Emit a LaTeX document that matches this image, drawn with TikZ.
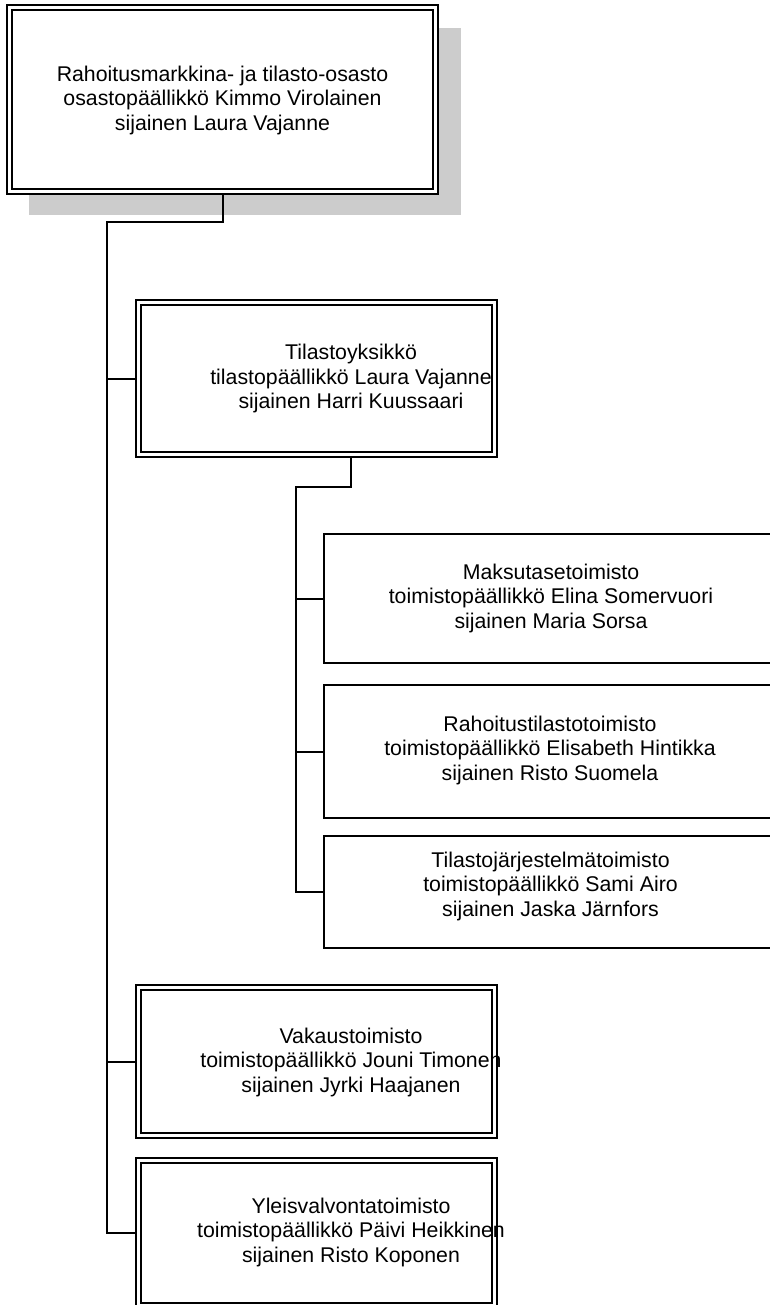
\documentclass[tikz,border=0pt]{standalone}
\usepackage{fontspec}
\setmainfont{Liberation Sans}
\usetikzlibrary{shadows,positioning}

\tikzset{
  unitbox/.style={draw, line width=1.2pt, double, double distance=3.8pt,
    outer sep=3.1pt, inner sep=0pt, fill=white},
  officebox/.style={draw, line width=1.3pt, outer sep=0.65pt, inner sep=0pt,
    fill=white},
  boxtext/.style={align=center, inner sep=0pt,
    font=\fontsize{21.3}{24.5}\selectfont},
  wire/.style={line width=2pt}
}

\begin{document}
\begin{tikzpicture}[x=1pt, y=-1pt]
\useasboundingbox (0,0) rectangle (770,1305);
\clip (0,0) rectangle (770,1305);

% osasto
\node[unitbox, minimum width=426pt, minimum height=184pt,
  drop shadow={shadow xshift=22pt, shadow yshift=-22pt, shadow scale=1.015,
    fill=black!20, opacity=1}]
  (osasto) at (222.5,99.5) {};
\node[boxtext] (osastotxt) at (222.5,100)
  {Rahoitusmarkkina- ja tilasto-osasto\\osastopäällikkö Kimmo Virolainen\\sijainen Laura Vajanne};

% yksikot
\node[unitbox, minimum width=356pt, minimum height=152pt] (tilasto) at (316.5,378.5) {};
\node[boxtext] (tilastotxt) at (351,378.5)
  {Tilastoyksikkö\\tilastopäällikkö Laura Vajanne\\sijainen Harri Kuussaari};
\node[unitbox, minimum width=356pt, minimum height=148pt] (vakaus) at (316.5,1061.5) {};
\node[boxtext] (vakaustxt) at (351,1062)
  {Vakaustoimisto\\toimistopäällikkö Jouni Timonen\\sijainen Jyrki Haajanen};
\node[unitbox, minimum width=356pt, minimum height=145pt] (yleis) at (316.5,1233) {};
\node[boxtext] (yleistxt) at (351,1232)
  {Yleisvalvontatoimisto\\toimistopäällikkö Päivi Heikkinen\\sijainen Risto Koponen};

% toimistot
\node[officebox, minimum width=466pt, minimum height=129pt] (maksu) at (557,598.5) {};
\node[boxtext] (maksutxt) at (551,598)
  {Maksutasetoimisto\\toimistopäällikkö Elina Somervuori\\sijainen Maria Sorsa};
\node[officebox, minimum width=466pt, minimum height=133pt] (rahoitus) at (557,751.5) {};
\node[boxtext] (rahoitustxt) at (550,750)
  {Rahoitustilastotoimisto\\toimistopäällikkö Elisabeth Hintikka\\sijainen Risto Suomela};
\node[officebox, minimum width=466pt, minimum height=112pt] (tjarj) at (557,892) {};
\node[boxtext] (tjarjtxt) at (550.5,886)
  {Tilastojärjestelmätoimisto\\toimistopäällikkö Sami Airo\\sijainen Jaska Järnfors};

% connectors
\coordinate (trunk) at (107,222);
\coordinate (subtrunk) at (296,487);
\draw[wire] (osasto.south) |- (trunk) |- (yleis.west);
\draw[wire] (trunk |- tilasto.west) -- (tilasto.west);
\draw[wire] (trunk |- vakaus.west) -- (vakaus.west);

\draw[wire] ([xshift=34.5pt]tilasto.south) |- (subtrunk) |- (tjarj.west);
\draw[wire] (subtrunk |- maksu.west) -- (maksu.west);
\draw[wire] (subtrunk |- rahoitus.west) -- (rahoitus.west);
\end{tikzpicture}
\end{document}
